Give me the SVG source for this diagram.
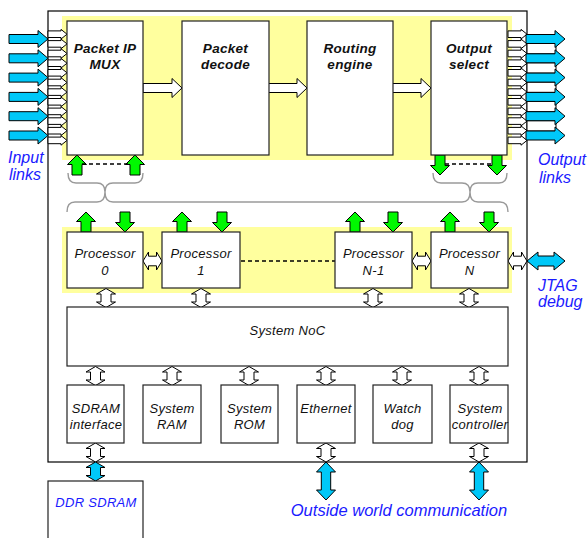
<svg xmlns="http://www.w3.org/2000/svg" xmlns:xlink="http://www.w3.org/1999/xlink" width="588" height="538" viewBox="0 0 588 538">
  <style>
    .chip { fill: #ffffff; stroke: #000000; stroke-width: 1.2; }
    .band { fill: #ffff9e; stroke: none; }
    .box { fill: #ffffff; stroke: #222222; stroke-width: 1.2; }
    .warrow { fill: #ffffff; stroke: #000000; stroke-width: 1; stroke-linejoin: miter; }
    .carrow { fill: #00c8f8; stroke: #000000; stroke-width: 1; }
    .garrow { fill: #00f800; stroke: #000000; stroke-width: 1; }
    .dash { stroke: #000000; stroke-width: 1.6; stroke-dasharray: 4 3; fill: none; }
    .brace { fill: none; stroke: #9a9a9a; stroke-width: 1.4; }
    .title { font-family: "Liberation Sans", Arial, sans-serif; font-size: 13.5px; font-weight: bold; font-style: italic; fill: #111111; text-anchor: middle; letter-spacing: 0.3px; }
    .label { font-family: "Liberation Sans", Arial, sans-serif; font-size: 13px; font-style: italic; fill: #111111; text-anchor: middle; letter-spacing: 0.3px; }
    .ext { font-family: "Liberation Sans", Arial, sans-serif; font-size: 16px; font-style: italic; fill: #1a1aff; }
  </style>
  <defs>
    <!-- single-headed block arrows, origin at the tail centre -->
    <polygon id="hArrow" points="0,-4.5 29,-4.5 29,-9.5 39,0 29,9.5 29,4.5 0,4.5"/>
    <polygon id="linkArrow" points="0,-4.5 29,-4.5 29,-8.5 39,0 29,8.5 29,4.5 0,4.5"/>
    <polygon id="smallArrow" points="0,-3.3 13,-3.3 13,-4.8 19,0 13,4.8 13,3.3 0,3.3"/>
    <!-- green arrows, origin at the tip -->
    <polygon id="upArrow" points="0,0 9.5,9.5 5,9.5 5,20 -5,20 -5,9.5 -9.5,9.5"/>
    <polygon id="downArrow" points="0,0 -9.5,-9.5 -5,-9.5 -5,-20 5,-20 5,-9.5 9.5,-9.5"/>
    <!-- double-headed arrows, origin at one tip -->
    <polygon id="vDouble" points="0,0 9.5,5.5 5,5.5 5,13.5 9.5,13.5 0,19 -9.5,13.5 -5,13.5 -5,5.5 -9.5,5.5"/>
    <polygon id="hDouble" points="0,0 5.5,-9 5.5,-4.8 13.5,-4.8 13.5,-9 19,0 13.5,9 13.5,4.8 5.5,4.8 5.5,9"/>
    <polygon id="hDoubleLong" points="0,0 11,-9 11,-5 27,-5 27,-9 38,0 27,9 27,5 11,5 11,9"/>
    <polygon id="vDoubleLong" points="0,0 9.5,10 4.7,10 4.7,28 9.5,28 0,38 -9.5,28 -4.7,28 -4.7,10 -9.5,10"/>
  </defs>

  <!-- chip outline and shaded regions -->
  <rect class="chip" x="48" y="11" width="479" height="451"/>
  <rect class="band" x="62" y="16" width="450" height="144"/>
  <rect class="band" x="62" y="227" width="450" height="66"/>

  <g id="connectors">
    <!-- input links -->
    <g class="warrow">
      <use xlink:href="#smallArrow" x="48" y="34.2"/>
      <use xlink:href="#smallArrow" x="48" y="43.9"/>
      <use xlink:href="#smallArrow" x="48" y="53.5"/>
      <use xlink:href="#smallArrow" x="48" y="63.2"/>
      <use xlink:href="#smallArrow" x="48" y="72.8"/>
      <use xlink:href="#smallArrow" x="48" y="82.5"/>
      <use xlink:href="#smallArrow" x="48" y="92.1"/>
      <use xlink:href="#smallArrow" x="48" y="101.8"/>
      <use xlink:href="#smallArrow" x="48" y="111.4"/>
      <use xlink:href="#smallArrow" x="48" y="121.1"/>
      <use xlink:href="#smallArrow" x="48" y="130.7"/>
      <use xlink:href="#smallArrow" x="48" y="140.4"/>
    </g>
    <g class="carrow">
      <use xlink:href="#linkArrow" x="9" y="39"/>
      <use xlink:href="#linkArrow" x="9" y="58.3"/>
      <use xlink:href="#linkArrow" x="9" y="77.6"/>
      <use xlink:href="#linkArrow" x="9" y="96.9"/>
      <use xlink:href="#linkArrow" x="9" y="116.2"/>
      <use xlink:href="#linkArrow" x="9" y="135.5"/>
    </g>

    <!-- output links -->
    <g class="warrow">
      <use xlink:href="#smallArrow" x="508" y="34.2"/>
      <use xlink:href="#smallArrow" x="508" y="43.9"/>
      <use xlink:href="#smallArrow" x="508" y="53.5"/>
      <use xlink:href="#smallArrow" x="508" y="63.2"/>
      <use xlink:href="#smallArrow" x="508" y="72.8"/>
      <use xlink:href="#smallArrow" x="508" y="82.5"/>
      <use xlink:href="#smallArrow" x="508" y="92.1"/>
      <use xlink:href="#smallArrow" x="508" y="101.8"/>
      <use xlink:href="#smallArrow" x="508" y="111.4"/>
      <use xlink:href="#smallArrow" x="508" y="121.1"/>
      <use xlink:href="#smallArrow" x="508" y="130.7"/>
      <use xlink:href="#smallArrow" x="508" y="140.4"/>
      <rect x="527" y="43.5" width="29" height="10.3"/>
      <rect x="527" y="62.8" width="29" height="10.3"/>
      <rect x="527" y="82.1" width="29" height="10.3"/>
      <rect x="527" y="101.4" width="29" height="10.3"/>
      <rect x="527" y="120.7" width="29" height="10.3"/>
    </g>
    <g class="carrow">
      <use xlink:href="#linkArrow" x="526" y="39"/>
      <use xlink:href="#linkArrow" x="526" y="58.3"/>
      <use xlink:href="#linkArrow" x="526" y="77.6"/>
      <use xlink:href="#linkArrow" x="526" y="96.9"/>
      <use xlink:href="#linkArrow" x="526" y="116.2"/>
      <use xlink:href="#linkArrow" x="526" y="135.5"/>
    </g>

    <!-- pipeline stages -->
    <g class="warrow">
      <use xlink:href="#hArrow" x="143" y="88"/>
      <use xlink:href="#hArrow" x="268" y="88"/>
      <use xlink:href="#hArrow" x="392" y="88"/>
    </g>

    <!-- control paths between pipeline and processors -->
    <g class="garrow">
      <use xlink:href="#upArrow" x="77" y="155"/>
      <use xlink:href="#upArrow" x="135" y="155"/>
      <use xlink:href="#downArrow" x="440" y="175"/>
      <use xlink:href="#downArrow" x="497" y="175"/>
      <use xlink:href="#upArrow" x="86" y="212"/>
      <use xlink:href="#downArrow" x="125" y="232"/>
      <use xlink:href="#upArrow" x="182" y="212"/>
      <use xlink:href="#downArrow" x="222" y="232"/>
      <use xlink:href="#upArrow" x="355" y="212"/>
      <use xlink:href="#downArrow" x="393" y="232"/>
      <use xlink:href="#upArrow" x="450" y="212"/>
      <use xlink:href="#downArrow" x="489" y="232"/>
    </g>
    <line class="dash" x1="82" y1="164" x2="130" y2="164"/>
    <line class="dash" x1="445" y1="164" x2="492" y2="164"/>
    <line class="dash" x1="241" y1="261" x2="335" y2="261"/>

    <path class="brace" d="M68,173 Q68,183 76,183 L97,183 Q105,183 105,192 Q105,183 113,183 L135,183 Q143,183 143,173"/>
    <path class="brace" d="M433,173 Q433,183 441,183 L462,183 Q470,183 470,192 Q470,183 478,183 L499,183 Q507,183 507,173"/>
    <path class="brace" d="M67,212 Q67,202 75,202 L97,202 Q105,202 105,192 Q105,202 113,202 L462,202 Q470,202 470,192 Q470,202 478,202 L500,202 Q508,202 508,212"/>

    <!-- processor links -->
    <g class="warrow">
      <use xlink:href="#hDouble" x="143" y="261"/>
      <use xlink:href="#hDouble" x="412" y="261"/>
      <use xlink:href="#hDouble" x="508" y="261"/>
      <use xlink:href="#vDouble" x="106" y="288.5"/>
      <use xlink:href="#vDouble" x="201" y="288.5"/>
      <use xlink:href="#vDouble" x="373" y="288.5"/>
      <use xlink:href="#vDouble" x="469" y="288.5"/>
      <use xlink:href="#vDouble" x="95.5" y="366.5"/>
      <use xlink:href="#vDouble" x="172" y="366.5"/>
      <use xlink:href="#vDouble" x="249" y="366.5"/>
      <use xlink:href="#vDouble" x="326" y="366.5"/>
      <use xlink:href="#vDouble" x="402" y="366.5"/>
      <use xlink:href="#vDouble" x="479" y="366.5"/>
      <use xlink:href="#vDouble" x="95.5" y="443"/>
      <use xlink:href="#vDouble" x="326" y="443"/>
      <use xlink:href="#vDouble" x="479" y="443"/>
    </g>
    <g class="carrow">
      <use xlink:href="#hDoubleLong" x="527" y="261"/>
      <use xlink:href="#vDouble" x="95.5" y="462"/>
      <use xlink:href="#vDoubleLong" x="326" y="462"/>
      <use xlink:href="#vDoubleLong" x="479" y="462"/>
    </g>
  </g>

  <!-- packet pipeline -->
  <g id="packet-ip-mux">
    <rect class="box" x="67" y="21" width="76" height="134"/>
    <text class="title" x="105" y="53">Packet IP</text>
    <text class="title" x="105" y="69">MUX</text>
  </g>
  <g id="packet-decode">
    <rect class="box" x="182" y="21" width="87" height="134"/>
    <text class="title" x="225.5" y="53">Packet</text>
    <text class="title" x="225.5" y="69">decode</text>
  </g>
  <g id="routing-engine">
    <rect class="box" x="307" y="21" width="86" height="134"/>
    <text class="title" x="350" y="53">Routing</text>
    <text class="title" x="350" y="69">engine</text>
  </g>
  <g id="output-select">
    <rect class="box" x="431" y="21" width="76" height="134"/>
    <text class="title" x="469" y="53">Output</text>
    <text class="title" x="469" y="69">select</text>
  </g>

  <!-- processor array -->
  <g id="processor-0">
    <rect class="box" x="67" y="232" width="76" height="56"/>
    <text class="label" x="105" y="258">Processor</text>
    <text class="label" x="105" y="275">0</text>
  </g>
  <g id="processor-1">
    <rect class="box" x="162" y="232" width="78" height="56"/>
    <text class="label" x="201" y="258">Processor</text>
    <text class="label" x="201" y="275">1</text>
  </g>
  <g id="processor-n-1">
    <rect class="box" x="335" y="232" width="77" height="56"/>
    <text class="label" x="373.5" y="258">Processor</text>
    <text class="label" x="373.5" y="275">N-1</text>
  </g>
  <g id="processor-n">
    <rect class="box" x="431" y="232" width="77" height="56"/>
    <text class="label" x="469.5" y="258">Processor</text>
    <text class="label" x="469.5" y="275">N</text>
  </g>

  <g id="system-noc">
    <rect class="box" x="67" y="307" width="441" height="59"/>
    <text class="label" x="287.5" y="335">System NoC</text>
  </g>

  <!-- peripherals -->
  <g id="sdram-interface">
    <rect class="box" x="67" y="385" width="57" height="58"/>
    <text class="label" x="96" y="413">SDRAM</text>
    <text class="label" x="96" y="429">interface</text>
  </g>
  <g id="system-ram">
    <rect class="box" x="143" y="385" width="58" height="58"/>
    <text class="label" x="172" y="413">System</text>
    <text class="label" x="172" y="429">RAM</text>
  </g>
  <g id="system-rom">
    <rect class="box" x="221" y="385" width="57" height="58"/>
    <text class="label" x="249.5" y="413">System</text>
    <text class="label" x="249.5" y="429">ROM</text>
  </g>
  <g id="ethernet">
    <rect class="box" x="297" y="385" width="58" height="58"/>
    <text class="label" x="326" y="413">Ethernet</text>
  </g>
  <g id="watchdog">
    <rect class="box" x="373" y="385" width="59" height="58"/>
    <text class="label" x="402.5" y="413">Watch</text>
    <text class="label" x="402.5" y="429">dog</text>
  </g>
  <g id="system-controller">
    <rect class="box" x="450" y="385" width="58" height="58"/>
    <text class="label" x="480" y="413">System</text>
    <text class="label" x="480" y="429">controller</text>
  </g>

  <g id="ddr-sdram">
    <rect class="box" x="48" y="481" width="95" height="62"/>
    <text class="label" x="96" y="507" style="fill:#1a1aff">DDR SDRAM</text>
  </g>

  <!-- external labels -->
  <text class="ext" x="8" y="163">Input</text>
  <text class="ext" x="9" y="180">links</text>
  <text class="ext" x="538" y="165">Output</text>
  <text class="ext" x="539" y="183">links</text>
  <text class="ext" x="538" y="291">JTAG</text>
  <text class="ext" x="538" y="307">debug</text>
  <text class="ext" x="399" y="516" style="text-anchor:middle;font-size:16.5px">Outside world communication</text>
</svg>
